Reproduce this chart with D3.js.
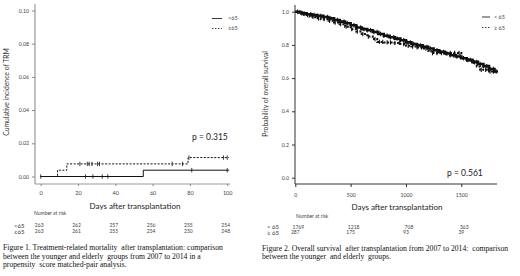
<!DOCTYPE html>
<html><head><meta charset="utf-8">
<script src="https://cdn.jsdelivr.net/npm/d3@7"></script>
<style>body{margin:0;background:#fff}svg{display:block}</style>
</head><body><svg id="c" width="520" height="276"></svg>
<script>
// ---------- Figure 1 data ----------
const trmTicksY = [0, 0.02, 0.04, 0.06, 0.08, 0.10];
const trmTicksX = [0, 20, 40, 60, 80, 100];
const trmYoung = [[0,0],[55,0.0038],[101,0.0038]];
const trmElder = [[0,0],[9,0.0038],[14,0.0076],[79,0.0114],[101,0.0114]];
const trmYoungCens = [0,24,28,33,36,81,100];
const trmElderCens = [21,25,26,27.5,30.5,31.5,70.5,76,79.5,98,100];
const trmRiskYoung = ["263","262","257","256","255","254"];
const trmRiskElder = ["263","261","255","254","250","248"];
// ---------- Figure 2 data ----------
const osTicksY = [0, 0.2, 0.4, 0.6, 0.8, 1.0];
const osTicksX = [0, 500, 1000, 1500];
const osYoung = [[0,1],[30,0.995],[60,0.99],[100,0.985],[150,0.98],[200,0.975],[250,0.968],[300,0.96],[350,0.95],[400,0.94],[450,0.93],[500,0.918],[550,0.905],[600,0.895],[650,0.888],[700,0.878],[750,0.866],[800,0.855],[850,0.846],[900,0.838],[950,0.828],[1000,0.815],[1050,0.805],[1100,0.797],[1150,0.788],[1200,0.778],[1250,0.768],[1300,0.758],[1350,0.748],[1400,0.738],[1450,0.73],[1500,0.72],[1550,0.71],[1600,0.698],[1650,0.685],[1700,0.672],[1750,0.655],[1800,0.64],[1820,0.632]];
const osElder = [[0,1],[40,0.99],[80,0.98],[130,0.97],[180,0.96],[230,0.955],[300,0.945],[350,0.935],[400,0.925],[450,0.91],[500,0.895],[550,0.88],[600,0.865],[650,0.85],[700,0.835],[740,0.818],[800,0.815],[880,0.812],[950,0.805],[1000,0.795],[1050,0.79],[1100,0.785],[1150,0.778],[1200,0.765],[1230,0.751],[1490,0.751],[1500,0.72],[1550,0.708],[1600,0.695],[1640,0.67],[1670,0.65],[1750,0.64],[1800,0.632]];
const osYoungCens = [20,50,80,110,140,170,200,230,260,290,320,350,380,410,440,470,500,530,560,590,620,650,680,710,740,770,800,830,860,890,920,950,980,1010,1040,1070,1100,1130,1160,1190,1220,1250,1280,1310,1340,1370,1400,1430,1460,1490,1520,1550,1580,1610,1640,1670,1700,1730,1760,1790,1815];
const osElderCens = [60,110,160,210,260,310,360,410,460,510,560,610,660,720,760,790,830,860,900,940,980,1020,1060,1100,1140,1180,1240,1280,1320,1360,1400,1440,1480,1560,1620,1680,1720,1760,1790];
const osRiskYoung = ["1769","1218","708","363"];
const osRiskElder = ["287","175","93","39"];

const svg = d3.select("#c");
const sans = "Lato, 'Liberation Sans', sans-serif";
const serif = "'Liberation Serif', serif";

function drawKM(g, data, x, y, dashed, sw){
  g.append("path").datum(data)
   .attr("d", d3.line().curve(d3.curveStepAfter).x(d=>x(d[0])).y(d=>y(d[1])))
   .attr("fill","none").attr("stroke","#111").attr("stroke-width",sw)
   .attr("stroke-dasharray", dashed ? "2,1.5" : null);
}
function stepVal(data, t){
  let v = data[0][1];
  for (const d of data) if (d[0] <= t) v = d[1];
  return v;
}
function drawCens(g, data, cens, x, y, h, sw){
  g.selectAll(null).data(cens).enter().append("line")
   .attr("x1", d=>x(d)).attr("x2", d=>x(d))
   .attr("y1", d=>y(stepVal(data,d))-h).attr("y2", d=>y(stepVal(data,d))+h)
   .attr("stroke","#111").attr("stroke-width",sw);
}

// ================= Figure 1 =================
{
  const x = d3.scaleLinear().domain([0,100]).range([40.7,227.2]);
  const y = d3.scaleLinear().domain([0,0.10]).range([176.5,10.5]);
  const g = svg.append("g");
  const ya = g.append("g").attr("transform","translate(35,0)")
    .call(d3.axisLeft(y).tickValues(trmTicksY).tickFormat(d3.format(".2f")).tickSize(3).tickPadding(3));
  ya.select(".domain").attr("d","M0,4V184").attr("stroke","#999").attr("stroke-width",1.2);
  ya.selectAll(".tick line").attr("stroke","#888");
  ya.selectAll("text").attr("font-family",sans).attr("font-size",5.2).attr("fill","#444");
  const xa = g.append("g").attr("transform","translate(0,184)")
    .call(d3.axisBottom(x).tickValues(trmTicksX).tickFormat(d3.format("d")).tickSize(2).tickPadding(5));
  xa.select(".domain").attr("d","M35,0H230").attr("stroke","#999").attr("stroke-width",1);
  xa.selectAll(".tick line").attr("stroke","#888");
  xa.selectAll("text").attr("font-family",sans).attr("font-size",5.5).attr("fill","#444");
  drawKM(g, trmYoung, x, y, false, 1);
  drawKM(g, trmElder, x, y, true, 1);
  drawCens(g, trmYoung, trmYoungCens, x, y, 2.2, 0.8);
  drawCens(g, trmElder, trmElderCens, x, y, 2.2, 0.8);
  g.append("line").attr("x1",212).attr("x2",222).attr("y1",18.5).attr("y2",18.5).attr("stroke","#222").attr("stroke-width",0.9);
  g.append("line").attr("x1",212).attr("x2",222).attr("y1",28.5).attr("y2",28.5).attr("stroke","#222").attr("stroke-width",0.9).attr("stroke-dasharray","1.5,1.5");
  g.append("text").attr("x",228).attr("y",20).text("<65").attr("font-family",sans).attr("font-size",5.5).attr("fill","#444");
  g.append("text").attr("x",228).attr("y",30).text("≥65").attr("font-family",sans).attr("font-size",5.5).attr("fill","#444");
  g.append("text").attr("x",192).attr("y",140).text("p = 0.315").attr("font-family",sans).attr("font-size",8.5).attr("fill","#222");
  g.append("text").attr("transform","translate(9,92) rotate(-90)").attr("text-anchor","middle")
   .text("Cumulative incidence of TRM").attr("font-family",sans).attr("font-size",6.8).attr("fill","#333");
  g.append("text").attr("x",135).attr("y",208.5).attr("text-anchor","middle")
   .text("Days after transplantation").attr("font-family",sans).attr("font-size",8).attr("fill","#222");
  g.append("text").attr("x",34).attr("y",215).text("Number at risk").attr("font-family",sans).attr("font-size",5).attr("fill","#444");
  g.append("text").attr("x",14).attr("y",227.5).text("<65").attr("font-family",sans).attr("font-size",6).attr("fill","#333");
  g.append("text").attr("x",14).attr("y",233.5).text("≥65").attr("font-family",sans).attr("font-size",6).attr("fill","#333");
  g.selectAll(null).data(trmRiskYoung).enter().append("text")
   .attr("x",(d,i)=>x(trmTicksX[i])-1.5).attr("y",227).attr("text-anchor","middle").text(d=>d)
   .attr("font-family",sans).attr("font-size",5).attr("fill","#444");
  g.selectAll(null).data(trmRiskElder).enter().append("text")
   .attr("x",(d,i)=>x(trmTicksX[i])-1.5).attr("y",233).attr("text-anchor","middle").text(d=>d)
   .attr("font-family",sans).attr("font-size",5).attr("fill","#444");
  const cap = ["Figure 1. Treatment-related mortality  after transplantation: comparison",
               "between the younger and elderly  groups from 2007 to 2014 in a",
               "propensity  score matched-pair analysis."];
  g.selectAll(null).data(cap).enter().append("text")
   .attr("x",3).attr("y",(d,i)=>250+i*8.7).text(d=>d)
   .attr("font-family",serif).attr("font-size",7.7).attr("fill","#111").style("white-space","pre");
}

// ================= Figure 2 =================
{
  const x = d3.scaleLinear().domain([0,1500]).range([295.3,461.3]);
  const y = d3.scaleLinear().domain([0,1]).range([177.7,11.7]);
  const g = svg.append("g");
  const ya = g.append("g").attr("transform","translate(295,0)")
    .call(d3.axisLeft(y).tickValues(osTicksY).tickFormat(d3.format(".1f")).tickSize(3).tickPadding(3));
  ya.select(".domain").attr("d","M0,5V184").attr("stroke","#333").attr("stroke-width",1);
  ya.selectAll(".tick line").attr("stroke","#333");
  ya.selectAll("text").attr("font-family",sans).attr("font-size",5.2).attr("fill","#444");
  const xa = g.append("g").attr("transform","translate(0,184)")
    .call(d3.axisBottom(x).tickValues(osTicksX).tickFormat(d3.format("d")).tickSize(3).tickPadding(6));
  xa.select(".domain").attr("d","M295,0H497").attr("stroke","#333").attr("stroke-width",1);
  xa.selectAll(".tick line").attr("stroke","#333");
  xa.selectAll("text").attr("font-family",sans).attr("font-size",5.2).attr("fill","#444");
  drawKM(g, osElder, x, y, true, 2);
  drawKM(g, osYoung, x, y, false, 2.6);
  drawCens(g, osYoung, osYoungCens, x, y, 2.2, 1.1);
  drawCens(g, osElder, osElderCens, x, y, 2.2, 1.1);
  g.append("line").attr("x1",482).attr("x2",490).attr("y1",17).attr("y2",17).attr("stroke","#222").attr("stroke-width",0.9);
  g.append("line").attr("x1",482).attr("x2",490).attr("y1",27.5).attr("y2",27.5).attr("stroke","#222").attr("stroke-width",0.9).attr("stroke-dasharray","1.5,1.5");
  g.append("text").attr("x",494).attr("y",19).text("< 65").attr("font-family",sans).attr("font-size",5.5).attr("fill","#444");
  g.append("text").attr("x",494).attr("y",29.5).text("≥ 65").attr("font-family",sans).attr("font-size",5.5).attr("fill","#444");
  g.append("text").attr("x",447).attr("y",175.5).text("p = 0.561").attr("font-family",sans).attr("font-size",8.5).attr("fill","#222");
  g.append("text").attr("transform","translate(268,94) rotate(-90)").attr("text-anchor","middle")
   .text("Probability of overall survival").attr("font-family",sans).attr("font-size",6.8).attr("fill","#333");
  g.append("text").attr("x",397).attr("y",210).attr("text-anchor","middle")
   .text("Days after transplantation").attr("font-family",sans).attr("font-size",8).attr("fill","#222");
  g.append("text").attr("x",296).attr("y",217.5).text("Number at risk").attr("font-family",sans).attr("font-size",5).attr("fill","#444");
  g.append("text").attr("x",267).attr("y",229).text("< 65").attr("font-family",sans).attr("font-size",6).attr("fill","#333");
  g.append("text").attr("x",267).attr("y",235).text("≥ 65").attr("font-family",sans).attr("font-size",6).attr("fill","#333");
  g.selectAll(null).data(osRiskYoung).enter().append("text")
   .attr("x",(d,i)=>x(osTicksX[i])+3).attr("y",228.5).attr("text-anchor","middle").text(d=>d)
   .attr("font-family",sans).attr("font-size",5).attr("fill","#444");
  g.selectAll(null).data(osRiskElder).enter().append("text")
   .attr("x",(d,i)=>x(osTicksX[i])).attr("y",234).attr("text-anchor","middle").text(d=>d)
   .attr("font-family",sans).attr("font-size",5).attr("fill","#444");
  const cap = ["Figure 2. Overall survival  after transplantation from 2007 to 2014:  comparison",
               "between the younger  and elderly  groups."];
  g.selectAll(null).data(cap).enter().append("text")
   .attr("x",262).attr("y",(d,i)=>250.5+i*8.7).text(d=>d)
   .attr("font-family",serif).attr("font-size",7.7).attr("fill","#111").style("white-space","pre");
}
</script></body></html>
